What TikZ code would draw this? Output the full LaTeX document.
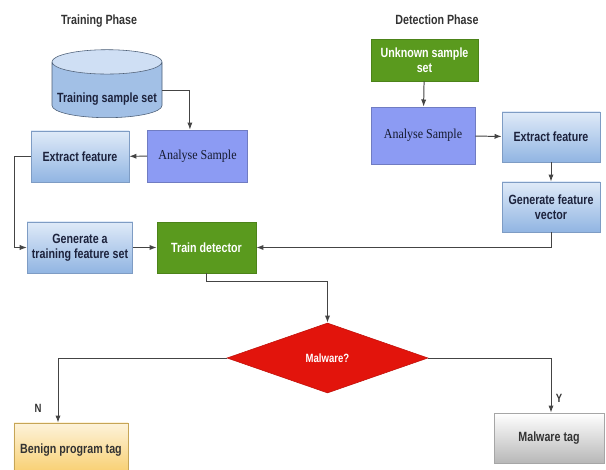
\documentclass[tikz,border=0pt]{standalone}
\usepackage{fontspec}
\newfontfamily\Narrow{Liberation Sans}[FakeStretch=0.8]
\newfontfamily\NarrowSerif{Liberation Serif}[FakeStretch=0.88]
\usetikzlibrary{positioning,shapes.geometric,arrows.meta,calc}
\definecolor{linia}{RGB}{68,68,68}
\definecolor{blauclar}{RGB}{223,234,248}
\definecolor{blaufosc}{RGB}{145,181,226}
\definecolor{vora}{RGB}{126,156,196}
\definecolor{lila}{RGB}{140,155,243}
\definecolor{verd}{RGB}{90,154,30}
\definecolor{vermell}{RGB}{226,20,12}
\definecolor{groc}{RGB}{248,206,108}
\definecolor{text}{RGB}{28,34,60}
\tikzset{
    BlockBlue/.style={draw=vora, top color=blauclar, bottom color=blaufosc, rectangle, minimum width=2.45cm, minimum height=1.275cm, text=text, align=center},
    BlockAnalyse/.style={draw=lila!80!black, fill=lila, rectangle, minimum width=2.5cm, minimum height=1.3cm, text=text!80!black, font=\NarrowSerif\fontsize{9.7}{11}\selectfont},
    BlockGreen/.style={draw=verd!85!black, fill=verd, rectangle, text=white, align=center},
    Decision/.style={diamond, draw=vermell!85!black, fill=vermell, text=white, minimum width=5.025cm, minimum height=1.75cm, aspect=2.87, inner sep=0pt, font=\Narrow\bfseries\fontsize{8.5}{10}\selectfont},
    Phase/.style={text=black!80, font=\Narrow\bfseries\fontsize{9.5}{11}\selectfont},
    Arrow/.style={draw=linia, line width=0.7pt, -{Latex[length=1.8mm,width=1.3mm]}}
    }

\begin{document}
\begin{tikzpicture}[font={\Narrow\bfseries\fontsize{9.5}{11}\selectfont}]
\useasboundingbox (0,0) rectangle (15.15,11.75);

\node[Phase] (TP) at (2.475,11.225) {Training Phase};
\node[Phase] (DP) at (10.925,11.25) {Detection Phase};

% training side
\node[cylinder, shape border rotate=90, aspect=2.6, draw=vora!60!black, cylinder uses custom fill, cylinder body fill=blaufosc!85, cylinder end fill=blauclar!80!blaufosc, minimum height=1.7cm, minimum width=2.75cm, text=text] (TS) at (2.675,9.44) {};
\node[text=text] (TSt) at (2.675,9.275) {Training sample set};
\node[BlockAnalyse] (AS1) at (4.9375,7.85) {Analyse Sample};
\node[BlockBlue] (EF1) at (2.0,7.8375) {Extract feature};
\node[BlockBlue] (GT) at (2.0,5.5625) {Generate a\\training feature set};
\node[BlockGreen, minimum width=2.475cm, minimum height=1.275cm] (TD) at (5.1625,5.5625) {Train detector};

% detection side
\node[BlockGreen, minimum width=2.675cm, minimum height=1.05cm] (US) at (10.6125,10.25) {Unknown sample\\set};
\node[BlockAnalyse, minimum width=2.6cm, minimum height=1.425cm] (AS2) at (10.575,8.3625) {Analyse Sample};
\node[BlockBlue, minimum height=1.25cm] (EF2) at (13.775,8.325) {Extract feature};
\node[BlockBlue, minimum height=1.25cm] (GV) at (13.775,6.575) {Generate feature\\vector};

% decision
\node[Decision] (Mal) at (8.1875,2.8) {Malware?};
\node[draw=groc!80!black, top color=groc!25!white, bottom color=groc, minimum width=2.85cm, minimum height=1.3cm] (BT) at (1.775,0.525) {};
\node[text=black!80] (BTt) at (1.775,0.5) {Benign program tag};
\node[draw=black!35, top color=white, bottom color=black!28, minimum width=2.75cm, minimum height=1.25cm, text=black!80] (MT) at (13.725,0.8) {Malware tag};

\node[text=black!80, font=\Narrow\bfseries\fontsize{8.5}{10}\selectfont] (N) at (0.95,1.55) {N};
\node[text=black!80, font=\Narrow\bfseries\fontsize{8.5}{10}\selectfont] (Y) at (13.975,1.8) {Y};

\draw[Arrow] ([yshift=0.05cm]TS.east) -| ($(AS1.north)+(-0.19,0)$);
\draw[Arrow] (AS1) -- (EF1);
\draw[Arrow] (EF1.west) -- ++(-0.4,0) |- (GT.west);
\draw[Arrow] (GT) -- (TD);
\draw[Arrow] (US) -- (AS2);
\draw[Arrow] (AS2) -- (EF2);
\draw[Arrow] (EF2) -- (GV);
\draw[Arrow] (GV.south) |- (TD.east);
\draw[Arrow] (TD.south) -- ++(0,-0.2) -| (Mal.north);
\draw[Arrow] (Mal.west) -| ($(BT.north)+(-0.325,0)$);
\draw[Arrow] (Mal.east) -| ($(MT.north)+(0.05,0)$);

\end{tikzpicture}
\end{document}
